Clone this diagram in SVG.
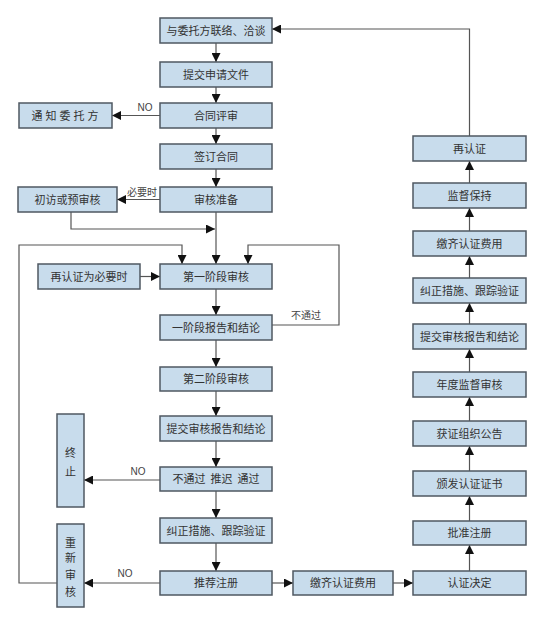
<svg xmlns="http://www.w3.org/2000/svg" width="553" height="623" viewBox="0 0 553 623">
<style>
.b{fill:#c8dcec;stroke:#4f5862;stroke-width:1.5}
.t{font-family:"Noto Sans CJK SC","Noto Sans",sans-serif;font-size:11px;fill:#333;text-anchor:middle}
.l{font-family:"Liberation Sans","Noto Sans CJK SC",sans-serif;font-size:10px;fill:#444;text-anchor:middle}
.c{fill:none;stroke:#555;stroke-width:1.2}
</style>
<defs>
<marker id="a" markerUnits="userSpaceOnUse" markerWidth="9" markerHeight="9" refX="8" refY="4" orient="auto" viewBox="0 0 8 8">
<path d="M0,0L8,4L0,8z" fill="#111"/>
</marker>
</defs>
<rect width="553" height="623" fill="#fff"/>
<g id="connectors">
<path class="c" marker-end="url(#a)" d="M216,43V62"/>
<path class="c" marker-end="url(#a)" d="M216,87V103"/>
<path class="c" marker-end="url(#a)" d="M216,128V144"/>
<path class="c" marker-end="url(#a)" d="M216,169V187"/>
<path class="c" marker-end="url(#a)" d="M216,212V264"/>
<path class="c" marker-end="url(#a)" d="M216,289V315"/>
<path class="c" marker-end="url(#a)" d="M216,340V367"/>
<path class="c" marker-end="url(#a)" d="M216,391V416"/>
<path class="c" marker-end="url(#a)" d="M216,441V467"/>
<path class="c" marker-end="url(#a)" d="M216,491V518"/>
<path class="c" marker-end="url(#a)" d="M216,543V571"/>
<path class="c" marker-end="url(#a)" d="M160,115.5H112"/>
<path class="c" marker-end="url(#a)" d="M160,199.5H117"/>
<path class="c" marker-end="url(#a)" d="M71,212V229H215"/>
<path class="c" marker-end="url(#a)" d="M57,583H19V245H182V264"/>
<path class="c" marker-end="url(#a)" d="M272,325H339V245H248V264"/>
<path class="c" marker-end="url(#a)" d="M140,276.5H160"/>
<path class="c" marker-end="url(#a)" d="M160,480H84"/>
<path class="c" marker-end="url(#a)" d="M160,583H84"/>
<path class="c" marker-end="url(#a)" d="M272,583H293"/>
<path class="c" marker-end="url(#a)" d="M393,583H413"/>
<path class="c" marker-end="url(#a)" d="M469.5,571V545"/>
<path class="c" marker-end="url(#a)" d="M469.5,521V496"/>
<path class="c" marker-end="url(#a)" d="M469.5,471V446"/>
<path class="c" marker-end="url(#a)" d="M469.5,421V397"/>
<path class="c" marker-end="url(#a)" d="M469.5,372V349"/>
<path class="c" marker-end="url(#a)" d="M469.5,324V303"/>
<path class="c" marker-end="url(#a)" d="M469.5,278V256"/>
<path class="c" marker-end="url(#a)" d="M469.5,231V208"/>
<path class="c" marker-end="url(#a)" d="M469.5,183V161"/>
<path class="c" marker-end="url(#a)" d="M469.5,136V29H272"/>
<text class="l" x="145" y="111">NO</text>
<text class="l" x="142" y="196">必要时</text>
<text class="l" x="306" y="319">不通过</text>
<text class="l" x="138" y="475">NO</text>
<text class="l" x="125" y="577">NO</text>
</g>
<g id="n1"><rect class="b" x="160" y="18" width="112" height="25"/><text class="t" x="216" y="34.5">与委托方联络、洽谈</text></g>
<g id="n2"><rect class="b" x="160" y="62" width="112" height="25"/><text class="t" x="216" y="78.5">提交申请文件</text></g>
<g id="n3"><rect class="b" x="160" y="103" width="112" height="25"/><text class="t" x="216" y="119.5">合同评审</text></g>
<g id="n4"><rect class="b" x="160" y="144" width="112" height="25"/><text class="t" x="216" y="160.5">签订合同</text></g>
<g id="n5"><rect class="b" x="160" y="187" width="112" height="25"/><text class="t" x="216" y="203.5">审核准备</text></g>
<g id="n6"><rect class="b" x="160" y="264" width="112" height="25"/><text class="t" x="216" y="280.5">第一阶段审核</text></g>
<g id="n7"><rect class="b" x="160" y="315" width="112" height="25"/><text class="t" x="216" y="331.5">一阶段报告和结论</text></g>
<g id="n8"><rect class="b" x="160" y="367" width="112" height="24"/><text class="t" x="216" y="383">第二阶段审核</text></g>
<g id="n9"><rect class="b" x="160" y="416" width="112" height="25"/><text class="t" x="216" y="432.5">提交审核报告和结论</text></g>
<g id="n10"><rect class="b" x="160" y="467" width="112" height="24"/><text class="t" x="216" y="483" xml:space="preserve">不通过  推迟  通过</text></g>
<g id="n11"><rect class="b" x="160" y="518" width="112" height="25"/><text class="t" x="216" y="534.5">纠正措施、跟踪验证</text></g>
<g id="n12"><rect class="b" x="160" y="571" width="112" height="24"/><text class="t" x="216" y="587">推荐注册</text></g>
<g id="n13"><rect class="b" x="19" y="103" width="93" height="25"/><text class="t" x="66.5" y="119.5" letter-spacing="3">通知委托方</text></g>
<g id="n14"><rect class="b" x="18" y="187" width="99" height="25"/><text class="t" x="67.5" y="203.5">初访或预审核</text></g>
<g id="n15"><rect class="b" x="38" y="264" width="102" height="25"/><text class="t" x="89" y="280.5">再认证为必要时</text></g>
<g id="n16"><rect class="b" x="57" y="414" width="27" height="93"/><text class="t" x="70.5" y="457">终</text><text class="t" x="70.5" y="476">止</text></g>
<g id="n17"><rect class="b" x="57" y="524" width="27" height="83"/><text class="t" x="70.5" y="547">重</text><text class="t" x="70.5" y="562">新</text><text class="t" x="70.5" y="579">审</text><text class="t" x="70.5" y="596">核</text></g>
<g id="n18"><rect class="b" x="293" y="571" width="100" height="24"/><text class="t" x="343" y="587">缴齐认证费用</text></g>
<g id="n19"><rect class="b" x="413" y="571" width="113" height="24"/><text class="t" x="469.5" y="587">认证决定</text></g>
<g id="n20"><rect class="b" x="413" y="521" width="113" height="24"/><text class="t" x="469.5" y="537">批准注册</text></g>
<g id="n21"><rect class="b" x="413" y="471" width="113" height="25"/><text class="t" x="469.5" y="487.5">颁发认证证书</text></g>
<g id="n22"><rect class="b" x="413" y="421" width="113" height="25"/><text class="t" x="469.5" y="437.5">获证组织公告</text></g>
<g id="n23"><rect class="b" x="413" y="372" width="113" height="25"/><text class="t" x="469.5" y="388.5">年度监督审核</text></g>
<g id="n24"><rect class="b" x="413" y="324" width="113" height="25"/><text class="t" x="469.5" y="340.5">提交审核报告和结论</text></g>
<g id="n25"><rect class="b" x="413" y="278" width="113" height="25"/><text class="t" x="469.5" y="294.5">纠正措施、跟踪验证</text></g>
<g id="n26"><rect class="b" x="413" y="231" width="113" height="25"/><text class="t" x="469.5" y="247.5">缴齐认证费用</text></g>
<g id="n27"><rect class="b" x="413" y="183" width="113" height="25"/><text class="t" x="469.5" y="199.5">监督保持</text></g>
<g id="n28"><rect class="b" x="413" y="136" width="113" height="25"/><text class="t" x="469.5" y="152.5">再认证</text></g>
</svg>
